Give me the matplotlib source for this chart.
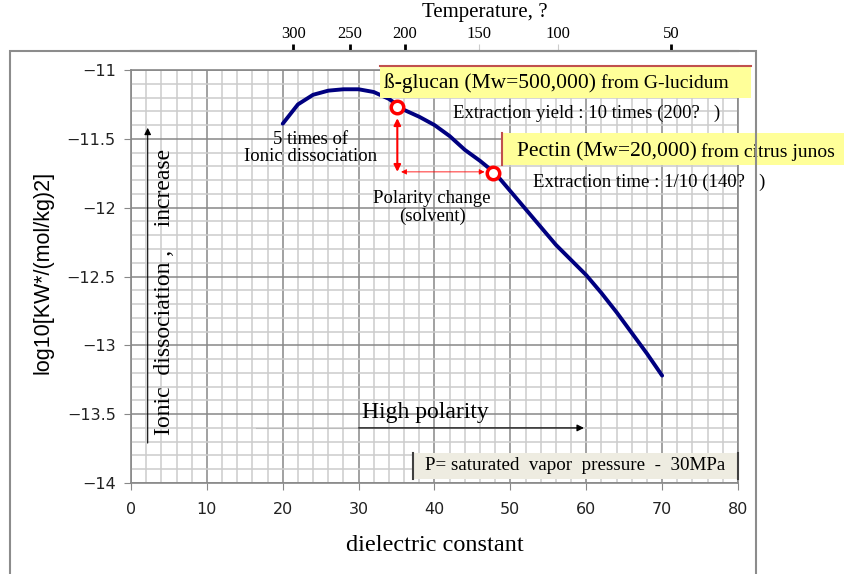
import matplotlib.pyplot as plt
from matplotlib.patches import Rectangle
import numpy as np

# curve: dielectric constant vs log10 Kw
dielectric = [20, 22, 24, 26, 28, 30, 32, 34, 36, 38, 40, 42, 44,
              46, 48, 50, 52, 54, 56, 58, 60, 62, 64, 66, 68, 70]
log_kw = [-11.39, -11.25, -11.18, -11.15, -11.14, -11.14, -11.16, -11.21,
          -11.29, -11.34, -11.40, -11.48, -11.58, -11.66, -11.75, -11.88,
          -12.01, -12.14, -12.27, -12.38, -12.49, -12.62, -12.76, -12.91,
          -13.06, -13.22]

# the two extraction points
point_x = [35.0, 47.7]
point_y = [-11.27, -11.745]

x_ticks = [0, 10, 20, 30, 40, 50, 60, 70, 80]
y_ticks = [-14, -13.5, -13, -12.5, -12, -11.5, -11]
y_tick_labels = ['\u221214', '\u221213.5', '\u221213', '\u221212.5',
                 '\u221212', '\u221211.5', '\u221211']

# temperature scale on top, placed at the matching dielectric constant
temp_pos = [21.4, 28.8, 36.1, 45.8, 56.3, 71.2]
temp_labels = ['300', '250', '200', '150', '100', '50']
temp_tick_dark = [True, True, True, False, False, True]

SERIF = 'Liberation Serif'

fig = plt.figure(figsize=(8.45, 5.74), dpi=100)
ax = fig.add_axes([131 / 845, 91 / 574, 607 / 845, 413 / 574])

# outer chart frame
fig.add_artist(Rectangle((10 / 845, -0.05), 746 / 845, 1.05 - 51 / 574,
                         transform=fig.transFigure, fill=False,
                         ec='#8c8c8c', lw=1.5))

ax.set_xlim(0, 80)
ax.set_ylim(-14, -11)
ax.set_xticks(x_ticks)
ax.set_xticks(np.arange(0, 81, 2), minor=True)
ax.set_yticks(y_ticks, y_tick_labels)
ax.set_yticks(np.arange(-14, -10.95, 0.1), minor=True)
ax.grid(which='minor', color='#cccccc', lw=1.1)
ax.grid(which='major', color='#888888', lw=1.1)
ax.set_axisbelow(True)
ax.tick_params(which='minor', length=0)
ax.tick_params(which='major', direction='out', length=5, color='#888888',
               labelsize=11.5, labelcolor='#222222')
ax.tick_params(axis='x', pad=9)
ax.tick_params(axis='y', pad=6)
for s in ax.spines.values():
    s.set_color('#888888')
    s.set_linewidth(1.2)

ax.set_xlabel('dielectric constant', fontsize=17.5, family=SERIF)
ax.xaxis.set_label_coords(0.5, -0.152)
ax.xaxis.label.set_va('center')
ax.set_ylabel('log10[KW*/(mol/kg)2]', fontsize=15.5, family='Liberation Sans')
ax.yaxis.set_label_coords(-0.145, 0.51)
ax.yaxis.label.set_va('center')

# top temperature axis
sec = ax.secondary_xaxis(1 + 19 / 413)
sec.set_xticks(temp_pos, temp_labels)
sec.tick_params(direction='out', length=5, width=2, color='black',
                labelsize=12, pad=1.5)
for lab in sec.get_xticklabels():
    lab.set_family(SERIF)
for t, dark in zip(sec.xaxis.get_major_ticks(), temp_tick_dark):
    if not dark:
        t.tick2line.set_color('#cccccc')
        t.tick2line.set_markeredgecolor('#cccccc')
        t.tick2line.set_markeredgewidth(0.8)
sec.spines['top'].set_color('#666666')
sec.spines['top'].set_linewidth(1.5)
fig.text(485 / 845, 1 - 13 / 574, 'Temperature, ?', fontsize=15,
         family=SERIF, ha='center', va='center')

# main curve and markers
ax.plot(dielectric, log_kw, color='#000080', lw=2.8, solid_capstyle='round',
        solid_joinstyle='round', zorder=3)
ax.plot(point_x, point_y, 'o', ms=9, mfc='white', mec='red', mew=2.5,
        zorder=6)

# red arrows between the two points
ax.annotate('', xy=(35.1, -11.35), xytext=(35.1, -11.74),
            arrowprops=dict(arrowstyle='<|-|>', color='red', lw=1.5,
                            mutation_scale=10, shrinkA=0, shrinkB=0))
ax.annotate('', xy=(35.6, -11.74), xytext=(46.6, -11.74),
            arrowprops=dict(arrowstyle='<|-|>', color='red', lw=0.6,
                            mutation_scale=8, shrinkA=0, shrinkB=0))

# black arrows
ax.annotate('', xy=(2.2, -11.42), xytext=(2.2, -13.71),
            arrowprops=dict(arrowstyle='-|>', color='black', lw=0.8,
                            mutation_scale=10, shrinkA=0, shrinkB=0))
ax.plot([16.5, 30], [-13.60, -13.60], color='#bbbbbb', lw=0.8)
ax.annotate('', xy=(59.7, -13.60), xytext=(30, -13.60),
            arrowprops=dict(arrowstyle='-|>', color='black', lw=0.9,
                            mutation_scale=10, shrinkA=0, shrinkB=0))

# plain labels
ax.text(23.7, -11.566, '5 times of\nIonic dissociation', fontsize=13.5,
        family=SERIF, ha='center', va='center', linespacing=1.05)
ax.text(39.7, -12.0, 'Polarity change\n(solvent)', fontsize=13.5,
        family=SERIF, ha='center', va='center', linespacing=1.05)
ax.text(42.4, -11.312, 'Extraction yield : 10 times (200?   )', fontsize=13.5,
        family=SERIF, va='center', zorder=5)
ax.text(53.0, -11.813, 'Extraction time : 1/10 (140?   )', fontsize=13.5,
        family=SERIF, va='center', zorder=5, clip_on=False)
ax.text(30.4, -13.49, 'High polarity', fontsize=17, family=SERIF,
        va='center')
ax.text(4.48, -12.61, 'Ionic  dissociation ,    increase', fontsize=17,
        family=SERIF, rotation=90, ha='center', va='center')

# yellow box: beta-glucan
ax.add_patch(Rectangle((32.8, -11.206), 48.9, 0.235, fc='#ffff99', ec='none',
                       clip_on=False, zorder=4))
ax.plot([32.8, 81.7], [-10.971, -10.971], color='#c0504d', lw=1.5,
        clip_on=False, zorder=5)
t1 = ax.text(33.4, -11.133, '\u00df-glucan (Mw=500,000)', fontsize=15.5,
             family=SERIF, va='baseline', zorder=5)
ax.annotate('from G-lucidum', xy=(1, -11.133), xycoords=(t1, 'data'),
            xytext=(3, 0), textcoords='offset points', fontsize=14,
            family=SERIF, va='baseline', zorder=5, annotation_clip=False)

# yellow box: pectin
ax.add_patch(Rectangle((48.9, -11.69), 45.2, 0.23, fc='#ffff99', ec='none',
                       clip_on=False, zorder=4))
ax.plot([48.9, 48.9], [-11.46, -11.69], color='#c0504d', lw=1.5,
        clip_on=False, zorder=5)
t2 = ax.text(50.9, -11.63, 'Pectin (Mw=20,000)', fontsize=15.5, family=SERIF,
             va='baseline', zorder=5)
ax.annotate('from citrus junos', xy=(1, -11.63), xycoords=(t2, 'data'),
            xytext=(3, 0), textcoords='offset points', fontsize=14,
            family=SERIF, va='baseline', zorder=5, annotation_clip=False)

# pressure box
ax.add_patch(Rectangle((37.15, -13.97), 42.85, 0.19, fc='#eeece1', ec='none',
                       zorder=4))
ax.plot([37.15, 37.15], [-13.97, -13.78], color='#404040', lw=1.5, zorder=5)
ax.plot([80.0, 80.0], [-13.97, -13.78], color='#404040', lw=1.5, zorder=5,
        clip_on=False)
ax.text(58.5, -13.876, 'P= saturated  vapor  pressure  -  30MPa', fontsize=13.7,
        family=SERIF, ha='center', va='center', zorder=5)

fig.savefig('out.png', dpi=100)
